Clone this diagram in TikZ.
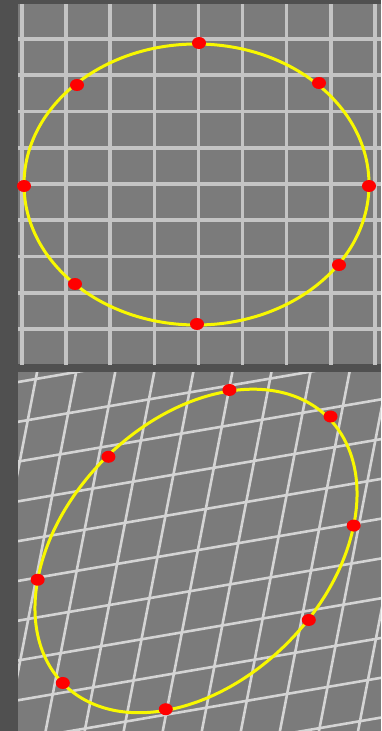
\documentclass[tikz,border=0pt]{standalone}
\usetikzlibrary{shapes.geometric}
\definecolor{bordergray}{HTML}{505050}
\definecolor{panelgray}{HTML}{7B7B7B}
\definecolor{gridgray}{HTML}{C4C4C4}
\definecolor{gridlight}{HTML}{D4D4D4}
\definecolor{ringyellow}{HTML}{F8F800}
\definecolor{dotred}{HTML}{FF0000}

\begin{document}
\begin{tikzpicture}[x=1pt,y=-1pt,
  gridline/.style={draw=gridgray,line width=3.6pt},
  gridskew/.style={draw=gridlight,line width=2.6pt},
  ring/.style={draw=ringyellow,line width=3pt},
  dot/.style={ellipse,fill=dotred,minimum width=14pt,minimum height=12pt,inner sep=0pt}]
\fill[bordergray](0,0) rectangle (381,731);
% upper panel
\fill[panelgray](18,4) rectangle (381,364);
\begin{scope}
\clip(18,4) rectangle (381,364);
\foreach \k in {0,...,8} \draw[gridline]({22+44.1*\k},0)--({22+44.1*\k},370);
\foreach \k in {0,...,8} \draw[gridline](15,{39+36.25*\k})--(385,{39+36.25*\k});
\end{scope}
\draw[ring](196.5,184.5) ellipse [x radius=172.5,y radius=140.5];
\foreach \n/\x/\y in {tN/199/43,tNE/319/83,tE/369/186,tSE/339/265,tS/197/324,tSW/75/284,tW/24/186,tNW/77/85}
  \node[dot](\n) at (\x,\y){};
% lower panel, same grid and ring under a skew
\fill[panelgray](18,372) rectangle (381,731);
\begin{scope}
\clip(18,372) rectangle (381,731);
\begin{scope}[shift={(56.6,372.4)},x={(0.916pt,0.157pt)},y={(-0.22pt,-1.135pt)}]
\foreach \k in {-5,...,13} \draw[gridskew]({22+44.1*\k},-250)--({22+44.1*\k},650);
\foreach \k in {-5,...,13} \draw[gridskew](-250,{39+36.25*\k})--(650,{39+36.25*\k});
\draw[ring](196.5,184.5) ellipse [x radius=172.5,y radius=140.5];
\foreach \n/\x/\y in {bN/199/43,bNE/319/83,bE/369/186,bSE/339/265,bS/197/324,bSW/75/284,bW/24/186,bNW/77/85}
  \node[dot](\n) at (\x,\y){};
\end{scope}
\end{scope}
\end{tikzpicture}
\end{document}
